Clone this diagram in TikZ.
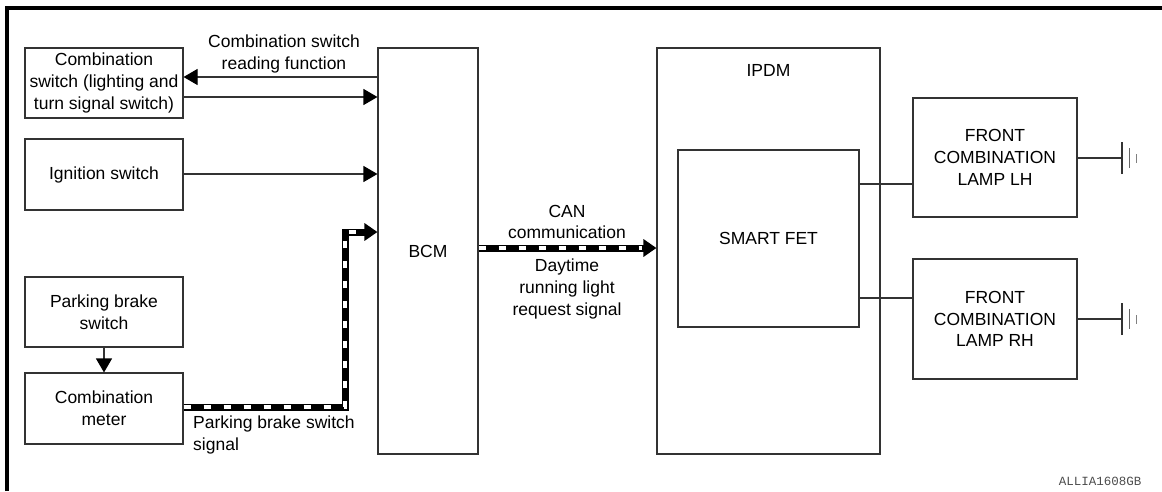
\documentclass[tikz,border=0pt]{standalone}
\usepackage{fontspec}
\setmainfont{Liberation Sans}
\newfontfamily\codefont{Liberation Mono}
\usetikzlibrary{arrows.meta}
\tikzset{
  box/.style={draw=black!80, line width=1.1pt, inner sep=0pt, align=center,
    font=\fontsize{17.5}{21.7}\selectfont},
  lbl/.style={inner sep=0pt, align=center, font=\fontsize{17.5}{21.7}\selectfont},
  wire/.style={draw=black!80, line width=1.1pt},
  arr/.style={wire, -{Triangle[length=14pt,width=16pt,fill=black,color=black]}},
  cansig/.style={line width=7pt, black, -{Triangle[length=13pt,width=17pt]}},
  canwhite/.style={line width=4.8pt, white, dash pattern=on 7pt off 13pt},
}
\begin{document}
\begin{tikzpicture}[x=1pt,y=-1pt]
\useasboundingbox (0,0) rectangle (1162,491);
% frame
\draw[line width=3.6pt] (7,491) -- (7,8.2) -- (1162,8.2);

% left boxes
\node[box, minimum width=158pt, minimum height=70pt] (cs) at (104,83)
  {Combination\\switch (lighting and\\turn signal switch)};
\node[box, minimum width=158pt, minimum height=71pt] (ign) at (104,174.5) {Ignition switch};
\node[box, minimum width=158pt, minimum height=70pt] (pbs) at (104,312) {Parking brake\\switch};
\node[box, minimum width=158pt, minimum height=71pt] (cm) at (104,408.5) {Combination\\meter};

% BCM
\node[box, minimum width=100pt, minimum height=406pt] (bcm) at (428,251) {BCM};

% IPDM
\node[box, minimum width=223pt, minimum height=406pt] (ipdm) at (768.5,251) {};
\node[lbl] (ipdmlbl) at (768.5,70) {IPDM};
\node[box, minimum width=181pt, minimum height=177pt] (fet) at (768.5,238.5) {SMART FET};

% lamps
\node[box, minimum width=164pt, minimum height=119pt] (lh) at (995,157.5)
  {FRONT\\COMBINATION\\LAMP LH};
\node[box, minimum width=164pt, minimum height=120pt] (rh) at (995,319)
  {FRONT\\COMBINATION\\LAMP RH};

% connectors to / from BCM
\draw[arr] (bcm.west |- 0,77) -- (cs.east |- 0,77);
\draw[arr] (cs.east |- 0,97) -- (bcm.west |- 0,97);
\draw[arr] (ign.east |- 0,174) -- (bcm.west |- 0,174);
\draw[arr] (pbs.south) -- (cm.north);

% parking brake signal (communication line)
\coordinate (d1) at (345,407);
\coordinate (d2) at (345,232);
\draw[cansig] (cm.east |- d1) -- (d1) -- (d2) -- (bcm.west |- d2);
\draw[canwhite] (cm.east |- d1) -- (d1) -- (d2) -- ([xshift=-14pt]bcm.west |- d2);

% CAN line
\draw[cansig] (bcm.east |- 0,248) -- (ipdm.west |- 0,248);
\draw[canwhite] (bcm.east |- 0,248) -- ([xshift=-14pt]ipdm.west |- 0,248);

% FET to lamps
\draw[wire] (fet.east |- 0,184) -- (lh.west |- 0,184);
\draw[wire] (fet.east |- 0,298) -- (rh.west |- 0,298);

% grounds
\coordinate (gl) at (1122,158);
\coordinate (gr) at (1122,319);
\draw[wire] (lh.east |- gl) -- (gl);
\draw[wire] (rh.east |- gr) -- (gr);
\foreach \g in {gl,gr}{
  \draw[wire] ([yshift=-16pt]\g) -- ([yshift=16pt]\g);
  \draw[wire, draw=black!60, line width=0.9pt] ([xshift=7pt,yshift=-10pt]\g) -- ([xshift=7pt,yshift=10pt]\g);
  \draw[wire, draw=black!50, line width=0.8pt] ([xshift=14pt,yshift=-4.5pt]\g) -- ([xshift=14pt,yshift=4.5pt]\g);
}

% labels
\node[lbl] (l1) at (284,54) {Combination switch\\reading function};
\node[lbl] (l2) at (567,222) {CAN\\communication};
\node[lbl] (l3) at (567,289) {Daytime\\running light\\request signal};
\node[lbl, align=left, anchor=north west] (l4) at (193,416) {Parking brake switch\\signal};
\node[inner sep=0pt, text=black!70, font=\codefont\fontsize{12.5}{14}\selectfont] (code) at (1100,481) {ALLIA1608GB};
\end{tikzpicture}
\end{document}
